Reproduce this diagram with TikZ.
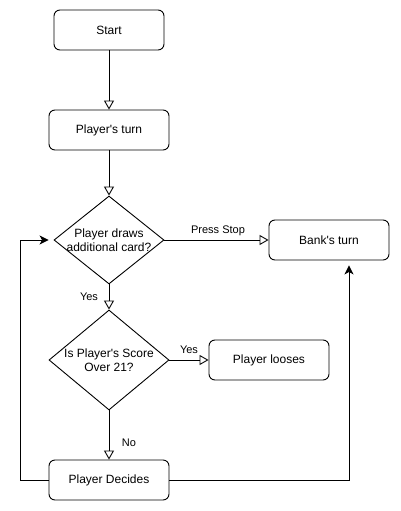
\documentclass[tikz,border=0pt]{standalone}
\usepackage{fontspec}
\setmainfont{Liberation Sans}
\usetikzlibrary{arrows.meta,shapes.geometric}
\newcommand{\q}{\textquotesingle}
\begin{document}
\begin{tikzpicture}[x=1pt,y=-1pt,
  every node/.style={font=\fontsize{12}{14.5}\selectfont},
  box/.style={draw, line width=0.9pt, rounded corners=6pt, minimum width=110pt, minimum height=40pt, inner sep=0pt},
  wbox/.style={box, minimum width=120pt},
  dia/.style={draw, line width=0.9pt, diamond, inner sep=0pt},
  lbl/.style={font=\fontsize{11}{13}\selectfont, inner sep=0pt},
  conn/.style={line width=0.9pt, -{Triangle[open, length=9pt, width=10pt]}},
  back/.style={line width=0.9pt, -{Stealth[length=9pt, width=9pt, inset=2.5pt]}, shorten >=5pt}
]
\useasboundingbox (0,0) rectangle (400,511);
\node[box] (start) at (109,30) {Start};
\node[wbox] (turn) at (109,130) {Player\q s turn};
\node[dia, minimum width=110pt, minimum height=88pt] (d1) at (109,240) {};
\node[align=center, inner sep=0pt] (d1t) at (d1) {Player draws\\additional card?};
\node[wbox] (bank) at (329,240) {Bank\q s turn};
\node[dia, minimum width=120pt, minimum height=100pt] (d2) at (109,360) {};
\node[align=center, inner sep=0pt] (d2t) at (d2) {Is Player\q s Score\\Over 21?};
\node[wbox] (loose) at (269,360) {Player looses};
\node[wbox] (dec) at (109,480) {Player Decides};

\draw[conn] (start.south) -- (turn.north);
\draw[conn] (turn.south) -- (d1.north);
\draw[conn] (d1.east) -- (bank.west);
\node[lbl] (lps) at (218,231) {Press Stop};
\draw[conn] (d1.south) -- (d2.north);
\node[lbl] (lyes1) at (89,297) {Yes};
\draw[conn] (d2.east) -- (loose.west);
\node[lbl] (lyes2) at (189,350) {Yes};
\draw[conn] (d2.south) -- (dec.north);
\node[lbl] (lno) at (129,443) {No};
\coordinate (lc) at (20,480);
\coordinate (rc) at (349,480);
\draw[back] (dec.west) -- (lc) |- (d1.west);
\draw[back] (dec.east) -- (rc) -- (rc |- bank.south);
\end{tikzpicture}
\end{document}
